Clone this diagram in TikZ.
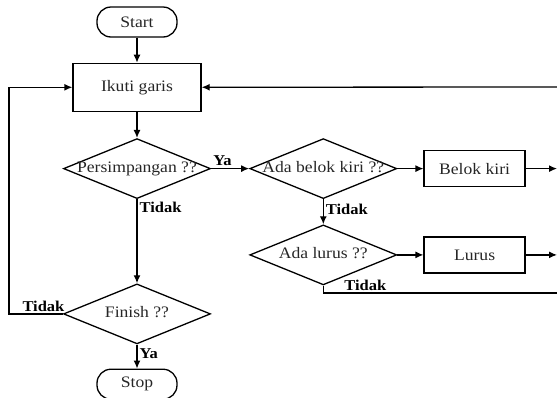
\documentclass[tikz,border=0pt]{standalone}
\usepackage{fontspec}
\setmainfont{Liberation Serif}[FakeStretch=1.1]
\usepackage{tikz}
\usetikzlibrary{positioning, shapes.geometric, arrows.meta}

\begin{document}
\begin{tikzpicture}[x=1pt, y=1pt, line width=1.3pt, >={Latex[length=8pt,width=7pt]},
    every node/.style={font=\fontsize{16pt}{18pt}\selectfont},
    terminal/.style={draw, rounded corners=14pt, minimum width=80pt, minimum height=30pt, text=black!85},
    proses/.style={draw, minimum width=128pt, minimum height=48pt, text=black!85},
    aksi/.style={draw, minimum width=101pt, minimum height=36pt, text=black!85},
    keputusan/.style={draw, diamond, aspect=2.4, inner sep=0pt, text height=1.5ex, text depth=0pt,
      minimum width=147pt, minimum height=60pt, text=black!85},
    jawab/.style={font=\fontsize{15pt}{17pt}\selectfont\bfseries, inner sep=2pt}]
  \useasboundingbox (0,0) rectangle (557,-397);

  \node[terminal] (start) at (137,-22) {Start};
  \node[proses, below = 25pt of start] (ikuti) {Ikuti garis};
  \node[keputusan, below = 26pt of ikuti] (simpang) {Persimpangan ??};
  \node[keputusan, right = 38pt of simpang] (kiri) {Ada belok kiri ??};
  \node[aksi, right = 26pt of kiri] (belok) {Belok kiri};
  \node[keputusan, below = 25pt of kiri] (lurus) {Ada lurus ??};
  \node[aksi, right = 26pt of lurus] (maju) {Lurus};
  \node[keputusan, below = 84pt of simpang] (finish) {Finish ??};
  \node[terminal, below = 24pt of finish] (stop) {Stop};

  % ujung garis di tepi kanan dan kiri
  \coordinate (kanan) at (557,-87);
  \coordinate (balik) at (9,-87);
  \coordinate (bawah) at (557,-293);

  \path[->]
    (start) edge (ikuti)
    (ikuti) edge (simpang)
    (simpang) edge node[jawab, above, pos=0.3] {Ya} (kiri)
    (kiri) edge (belok)
    (kiri) edge node[jawab, right, pos=0.4] {Tidak} (lurus)
    (lurus) edge (maju)
    (simpang) edge node[jawab, right, pos=0.1] {Tidak} (finish)
    (finish) edge node[jawab, right, pos=0.4] {Ya} (stop)
    (kanan) edge (ikuti);

  \draw[->] (belok.east) -- (belok.east -| kanan);
  \draw[->] (maju.east) -- (maju.east -| kanan);
  \draw (lurus.south) |- node[jawab, above, pos=0.59] {Tidak} (bawah);
  \draw[->] (finish.west) -| node[jawab, above, pos=0.18] {Tidak} (balik) |- (ikuti.west);
\end{tikzpicture}
\end{document}
